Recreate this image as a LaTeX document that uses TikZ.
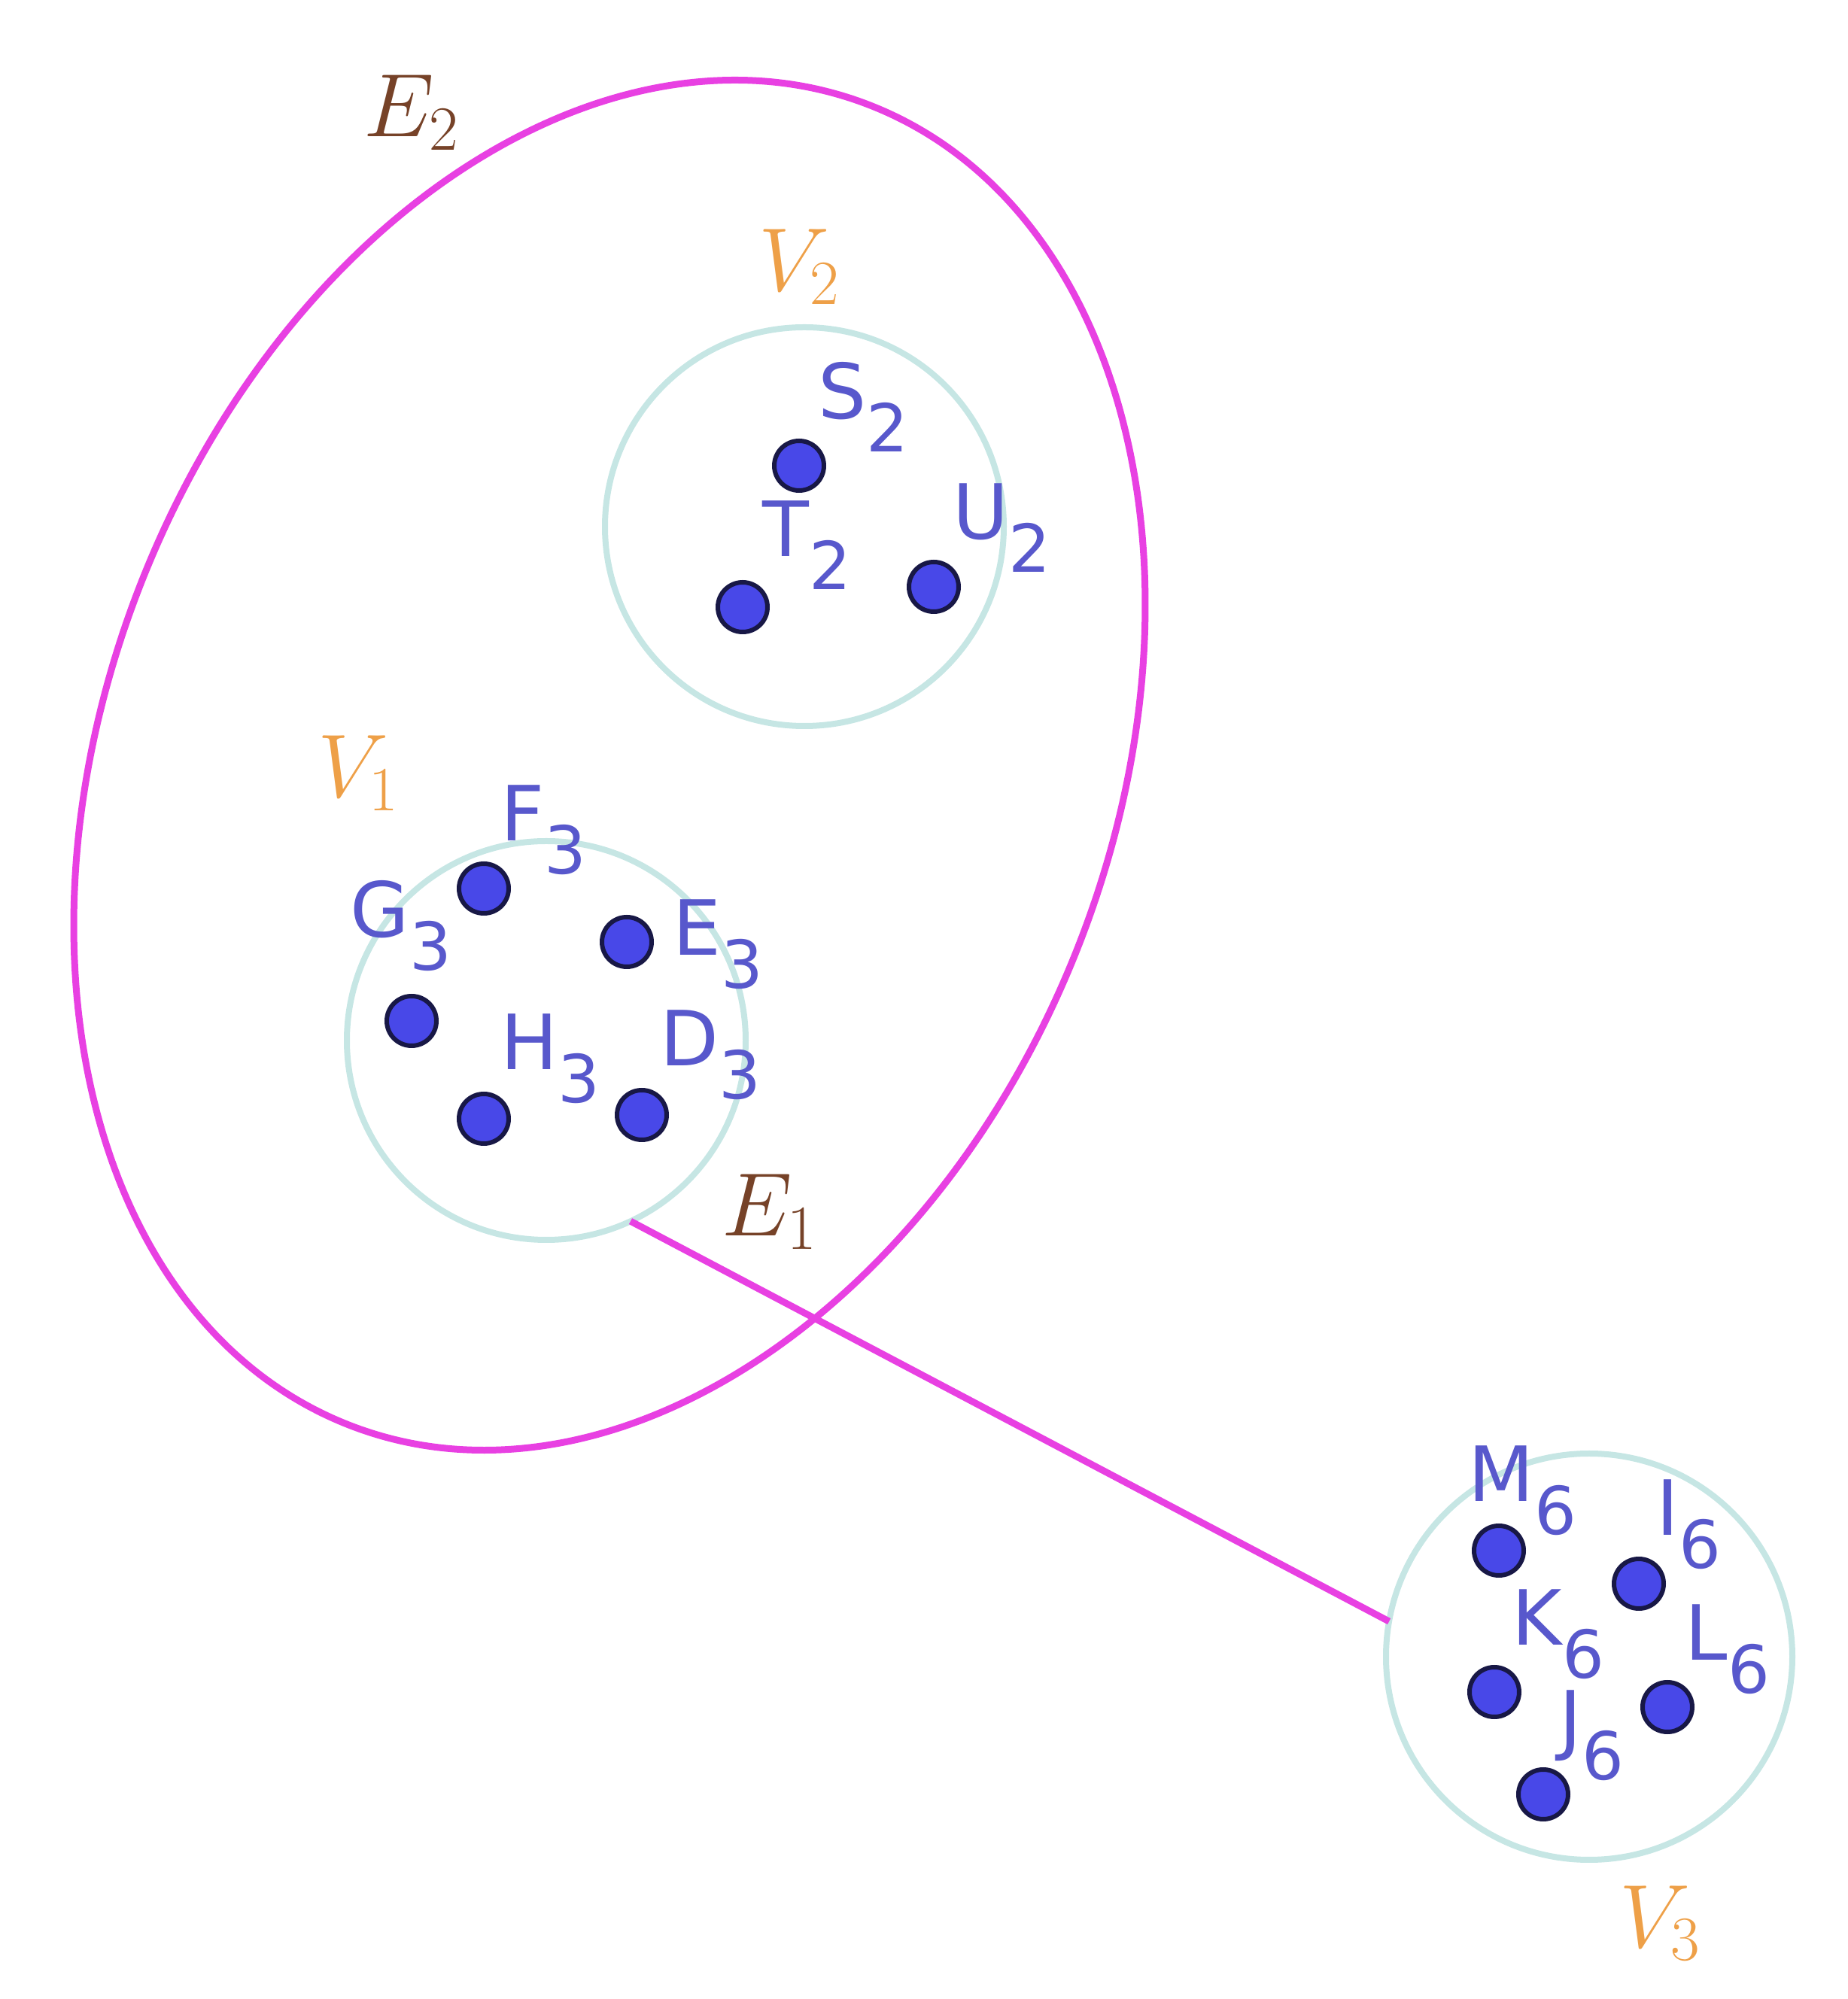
\RequirePackage{fix-cm}
\documentclass[tikz,border=0pt]{standalone}
\usepackage{fontspec}
\newfontfamily\ptfont{DejaVu Sans}
\definecolor{hyperpink}{RGB}{232,64,226}
\definecolor{setcyan}{RGB}{198,230,228}
\definecolor{ptblue}{RGB}{72,72,232}
\definecolor{ptnavy}{RGB}{24,24,70}
\definecolor{lblblue}{RGB}{88,88,204}
\definecolor{setorange}{RGB}{238,160,72}
\definecolor{edgebrown}{RGB}{118,66,40}
\def\sublbl#1#2{{\fontsize{28.8}{30}\selectfont #1}\raisebox{-0.44cm}{\fontsize{25}{26}\selectfont #2}}
\tikzset{
	setcirc/.style={circle, draw=setcyan, line width=0.08cm, minimum size=5.3cm, inner sep=0pt, outer sep=0pt},
	vertex/.style={circle, fill=ptblue, draw=ptnavy, line width=0.06cm, minimum size=0.66cm, inner sep=0pt},
	ptlbl/.style={anchor=base west, inner sep=0pt, text=lblblue, font=\ptfont},
	setlbl/.style={anchor=base west, inner sep=0pt, text=setorange, font=\fontsize{34}{40}\selectfont},
	edgelbl/.style={anchor=base west, inner sep=0pt, text=edgebrown, font=\fontsize{34}{40}\selectfont},
	hyperedge/.style={draw=hyperpink, line width=0.09cm}
}
\begin{document}
\begin{tikzpicture}
			%%%%% START %%%%%
			
			\useasboundingbox (0, 0) rectangle (24.55, 26.57);
			
			\draw[hyperedge, rotate around={68.3:(8.10, 16.40)}] (8.10, 16.40) ellipse [x radius=9.43, y radius=6.68];
			\node[edgelbl] (E2) at (4.83, 24.75) {$E_2$};
			
			\node[setcirc] (V1c) at (7.26, 12.74) {};
			\node[setcirc] (V2c) at (10.69, 19.57) {};
			\node[setcirc, minimum size=5.4cm] (V3c) at (21.12, 4.55) {};
			
			\draw[hyperedge] (V1c.-65) -- (V3c.170);
			\node[edgelbl] (E1) at (9.59, 10.14) {$E_1$};
			
			\node[setlbl] (V1) at (4.22, 15.97) {$V_1$};
			\node[setlbl] (V2) at (10.08, 22.70) {$V_2$};
			\node[setlbl] (V3) at (21.52, 0.69) {$V_3$};
			
			\node[vertex] (S2) at (10.62, 20.38) {};
			\node[vertex] (T2) at (9.87, 18.50) {};
			\node[vertex] (U2) at (12.41, 18.77) {};
			\node[ptlbl] (S2l) at (10.87, 21.00) {\sublbl{S}{2}};
			\node[ptlbl] (T2l) at (10.13, 19.17) {\sublbl{T}{2}};
			\node[ptlbl] (U2l) at (12.66, 19.40) {\sublbl{U}{2}};
			
			\node[vertex] (F3) at (6.43, 14.76) {};
			\node[vertex] (E3) at (8.33, 14.05) {};
			\node[vertex] (G3) at (5.47, 13.00) {};
			\node[vertex] (H3) at (6.43, 11.70) {};
			\node[vertex] (D3) at (8.53, 11.75) {};
			\node[ptlbl] (F3l) at (6.65, 15.39) {\sublbl{F}{3}};
			\node[ptlbl] (G3l) at (4.65, 14.11) {\sublbl{G}{3}};
			\node[ptlbl] (E3l) at (8.94, 13.87) {\sublbl{E}{3}};
			\node[ptlbl] (H3l) at (6.65, 12.35) {\sublbl{H}{3}};
			\node[ptlbl] (D3l) at (8.77, 12.40) {\sublbl{D}{3}};
			
			\node[vertex] (M6) at (19.92, 5.96) {};
			\node[vertex] (I6) at (21.78, 5.52) {};
			\node[vertex] (K6) at (19.86, 4.08) {};
			\node[vertex] (L6) at (22.16, 3.88) {};
			\node[vertex] (J6) at (20.51, 2.72) {};
			\node[ptlbl] (M6l) at (19.51, 6.61) {\sublbl{M}{6}};
			\node[ptlbl] (I6l) at (22.01, 6.16) {\sublbl{I}{6}};
			\node[ptlbl] (K6l) at (20.09, 4.70) {\sublbl{K}{6}};
			\node[ptlbl] (L6l) at (22.39, 4.50) {\sublbl{L}{6}};
			\node[ptlbl] (J6l) at (20.72, 3.36) {\sublbl{J}{6}};
			
			%%%%% END %%%%%
\end{tikzpicture}
\end{document}
